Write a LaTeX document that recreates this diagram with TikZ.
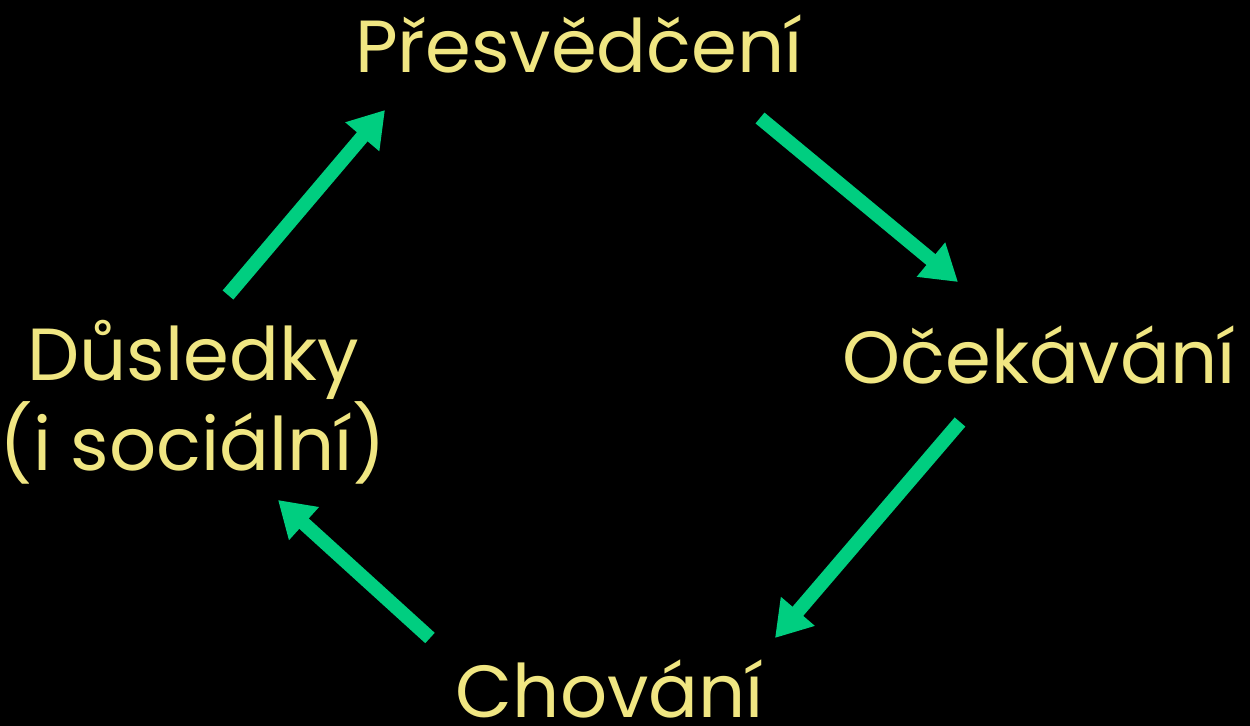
\documentclass[tikz,border=0pt]{standalone}
\usepackage{fontspec}
\setmainfont{Poppins}
\usetikzlibrary{arrows.meta}
\definecolor{labelyellow}{RGB}{240,230,130}
\definecolor{arrowgreen}{RGB}{0,206,128}
\tikzset{
  word/.style={text=labelyellow,anchor=base,inner sep=0pt,font=\fontsize{42}{48}\selectfont},
  cyclearrow/.style={draw=arrowgreen,line width=8pt,
    -{Triangle[length=20pt,width=24pt]}}
}
\begin{document}
\begin{tikzpicture}[x=0.02cm,y=-0.02cm]
  % background and page size
  \fill[black] (0,0) rectangle (1250,726);
  \useasboundingbox (0,0) rectangle (1250,726);
  % the four stages
  \node[word] (presv) at (579,73) {Přesvědčení};
  \node[word] (ocek) at (1039,383) {Očekávání};
  \node[word] (chov) at (610,717) {Chování};
  \node[word,align=center] (dusl) at (193,470) {Důsledky\\(i sociální)};
  % arrow ends
  \coordinate (a1s) at (228,295);
  \coordinate (a1e) at (385,110);
  \coordinate (a2s) at (760,118);
  \coordinate (a2e) at (958,282);
  \coordinate (a3s) at (960,422);
  \coordinate (a3e) at (775,638);
  \coordinate (a4s) at (430,638);
  \coordinate (a4e) at (278,500);
  % the cycle
  \draw[cyclearrow] (a1s) -- (a1e);
  \draw[cyclearrow] (a2s) -- (a2e);
  \draw[cyclearrow] (a3s) -- (a3e);
  \draw[cyclearrow] (a4s) -- (a4e);
\end{tikzpicture}
\end{document}
